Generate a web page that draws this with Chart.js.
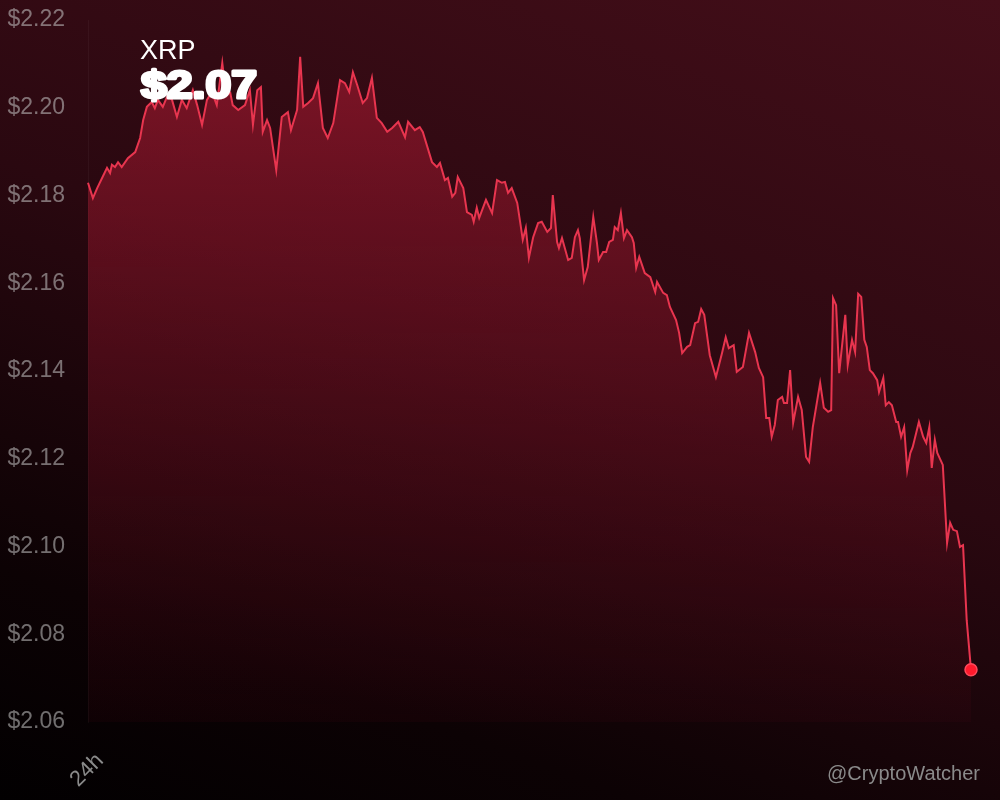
<!DOCTYPE html>
<html>
<head>
<meta charset="utf-8">
<script src="https://cdn.jsdelivr.net/npm/chart.js@4/dist/chart.umd.min.js"></script>
<style>
  html, body { margin: 0; padding: 0; }
  body {
    width: 1000px; height: 800px; overflow: hidden;
    background: linear-gradient(200deg, #440e19 0%, #2a0810 45%, #0c0204 80%, #020001 100%);
  }
  #wrap { position: relative; width: 1000px; height: 800px; }
</style>
</head>
<body>
<div id="wrap"><canvas id="myChart" width="1000" height="800"></canvas></div>
<script>
// minutes since start of the 24h window
const minutes = [
  0, 8, 15, 23, 31, 36, 39, 44, 49, 55, 65, 77, 85, 90, 96, 104, 109, 114, 122, 130,
  137, 145, 153, 161, 171, 178, 186, 194, 202, 210, 219, 225, 232, 236, 245, 256, 264, 269, 276, 282,
  285, 292, 297, 307, 316, 326, 331, 341, 346, 351, 359, 367, 375, 383, 391, 400, 411, 419, 426, 432,
  439, 448, 455, 463, 471, 479, 488, 496, 506, 517, 522, 533, 541, 546, 561, 569, 574, 582, 587, 594,
  599, 603, 612, 618, 626, 629, 634, 638, 649, 659, 667, 675, 680, 685, 691, 700, 705, 709, 714, 719,
  726, 734, 740, 749, 755, 758, 765, 768, 773, 783, 789, 794, 799, 802, 809, 815, 824, 830, 833, 840,
  845, 850, 856, 859, 864, 869, 874, 879, 887, 890, 894, 899, 908, 917, 925, 928, 938, 944, 949, 959,
  964, 969, 977, 982, 990, 995, 1000, 1005, 1014, 1024, 1034, 1040, 1045, 1053, 1058, 1068, 1078, 1088, 1094, 1101,
  1106, 1111, 1115, 1120, 1125, 1132, 1135, 1140, 1145, 1150, 1158, 1164, 1171, 1176, 1182, 1194, 1200, 1207, 1212, 1215,
  1220, 1225, 1235, 1239, 1246, 1251, 1256, 1261, 1266, 1270, 1275, 1280, 1287, 1290, 1297, 1301, 1306, 1311, 1318, 1321,
  1326, 1331, 1336, 1341, 1345, 1355, 1362, 1367, 1372, 1376, 1381, 1385, 1394, 1401, 1406, 1411, 1417, 1422, 1427, 1433,
  1440
];

const prices = [
  2.1829, 2.1794, 2.1817, 2.1840, 2.1863, 2.1851, 2.1870, 2.1865, 2.1876, 2.1865, 2.1885, 2.1899, 2.1931, 2.1972, 2.2002, 2.2013, 2.1999, 2.2018, 2.2002, 2.2029,
  2.2018, 2.1979, 2.2018, 2.1999, 2.2040, 2.2006, 2.1961, 2.2018, 2.2036, 2.2006, 2.2102, 2.2029, 2.2034, 2.2006, 2.1995, 2.2006, 2.2040, 2.1961, 2.2040, 2.2047,
  2.1945, 2.1972, 2.1954, 2.1858, 2.1979, 2.1990, 2.1949, 2.1995, 2.2116, 2.2002, 2.2011, 2.2022, 2.2056, 2.1954, 2.1931, 2.1965, 2.2063, 2.2056, 2.2036, 2.2081,
  2.2052, 2.2011, 2.2022, 2.2068, 2.1977, 2.1965, 2.1945, 2.1954, 2.1968, 2.1933, 2.1968, 2.1949, 2.1956, 2.1945, 2.1876, 2.1865, 2.1874, 2.1835, 2.1840, 2.1797,
  2.1806, 2.1842, 2.1817, 2.1762, 2.1756, 2.1740, 2.1772, 2.1749, 2.1790, 2.1760, 2.1835, 2.1829, 2.1831, 2.1806, 2.1817, 2.1783, 2.1737, 2.1699, 2.1726, 2.1658,
  2.1705, 2.1737, 2.1740, 2.1717, 2.1726, 2.1801, 2.1694, 2.1680, 2.1703, 2.1653, 2.1658, 2.1705, 2.1721, 2.1703, 2.1607, 2.1637, 2.1751, 2.1692, 2.1653, 2.1671,
  2.1671, 2.1694, 2.1699, 2.1728, 2.1721, 2.1760, 2.1703, 2.1721, 2.1705, 2.1692, 2.1635, 2.1660, 2.1623, 2.1614, 2.1580, 2.1603, 2.1578, 2.1573, 2.1546, 2.1516,
  2.1487, 2.1441, 2.1455, 2.1459, 2.1509, 2.1512, 2.1541, 2.1528, 2.1436, 2.1386, 2.1441, 2.1477, 2.1452, 2.1459, 2.1398, 2.1409, 2.1487, 2.1443, 2.1407, 2.1386,
  2.1293, 2.1293, 2.1250, 2.1277, 2.1334, 2.1341, 2.1327, 2.1327, 2.1402, 2.1282, 2.1341, 2.1311, 2.1204, 2.1193, 2.1272, 2.1373, 2.1316, 2.1307, 2.1311, 2.1566,
  2.1550, 2.1395, 2.1528, 2.1414, 2.1471, 2.1443, 2.1576, 2.1569, 2.1471, 2.1455, 2.1402, 2.1395, 2.1379, 2.1352, 2.1384, 2.1322, 2.1329, 2.1322, 2.1284, 2.1284,
  2.1250, 2.1272, 2.1174, 2.1213, 2.1227, 2.1284, 2.1250, 2.1236, 2.1272, 2.1179, 2.1243, 2.1213, 2.1186, 2.1008, 2.1054, 2.1038, 2.1035, 2.0999, 2.1003, 2.0832,
  2.0719
];

const yTicks = [2.06, 2.08, 2.10, 2.12, 2.14, 2.16, 2.18, 2.20, 2.22];
const xTickLabel = "24h";
const coinName = "XRP";
const handle = "@CryptoWatcher";

const points = minutes.map((m, i) => ({ x: m, y: prices[i] }));
const lastIdx = points.length - 1;

let overlayText = {
  id: "overlayText",
  afterDraw(chart) {
    const { ctx } = chart;
    const current = prices[lastIdx];
    ctx.save();
    ctx.fillStyle = "#ffffff";
    ctx.textBaseline = "alphabetic";
    ctx.textAlign = "left";
    ctx.font = "27px 'Liberation Sans', Arial, sans-serif";
    ctx.fillText(coinName, 140, 59);

    // big price, a bit wider and heavier than plain bold
    const label = "$" + current.toFixed(2);
    ctx.translate(141, 98);
    ctx.scale(1.22, 1);
    ctx.font = "bold 38px 'Liberation Sans', Arial, sans-serif";
    ctx.lineWidth = 3;
    ctx.strokeStyle = "#ffffff";
    ctx.lineJoin = "round";
    ctx.strokeText(label, 0, 0);
    ctx.fillText(label, 0, 0);
    ctx.restore();

    ctx.save();
    ctx.font = "20px 'Liberation Sans', Arial, sans-serif";
    ctx.fillStyle = "#8a8a8a";
    ctx.textAlign = "right";
    ctx.fillText(handle, 980, 780);
    ctx.restore();
  }
};

let chart = new Chart(document.getElementById("myChart"), {
  type: "line",
  data: {
    datasets: [{
      data: points,
      borderColor: "#e8354f",
      borderWidth: 2,
      tension: 0,
      fill: "start",
      clip: false,
      backgroundColor(context) {
        const area = context.chart.chartArea;
        if (!area) return "rgba(200,30,60,0.4)";
        const g = context.chart.ctx.createLinearGradient(0, area.top, 0, area.bottom);
        g.addColorStop(0, "rgba(178,28,52,0.62)");
        g.addColorStop(1, "rgba(120,15,35,0.08)");
        return g;
      },
      pointRadius: (c) => (c.dataIndex === lastIdx ? 6 : 0),
      pointBackgroundColor: "#ff1a2c",
      pointBorderColor: "#ff4a5c",
      pointBorderWidth: 1.5,
      pointHoverRadius: 0
    }]
  },
  options: {
    responsive: false,
    animation: false,
    layout: { padding: { top: 20, right: 29, left: 0, bottom: 0 } },
    plugins: {
      legend: { display: false },
      tooltip: { enabled: false }
    },
    scales: {
      x: {
        type: "linear",
        min: minutes[0],
        max: minutes[lastIdx],
        grid: { display: false, drawTicks: false },
        border: { display: false },
        afterBuildTicks(scale) { scale.ticks = [{ value: minutes[0] }]; },
        afterFit(scale) {
          scale.height = 78;
          scale.paddingLeft = 0;
          scale.paddingRight = 0;
        },
        ticks: {
          callback: () => xTickLabel,
          color: "#8a8a8a",
          font: { size: 22, family: "'Liberation Sans', Arial, sans-serif" },
          minRotation: 45,
          maxRotation: 45,
          labelOffset: 12,
          padding: 26
        }
      },
      y: {
        min: yTicks[0],
        max: yTicks[yTicks.length - 1],
        grid: { display: false, drawTicks: false },
        border: { display: true, color: "rgba(255,255,255,0.04)" },
        afterBuildTicks(scale) { scale.ticks = yTicks.map(v => ({ value: v })); },
        afterFit(scale) {
          scale.width = 88;
          scale.paddingTop = 0;
          scale.paddingBottom = 0;
        },
        ticks: {
          callback: (v) => "$" + v.toFixed(2),
          color: "rgba(200,200,200,0.55)",
          font: { size: 23, family: "'Liberation Sans', Arial, sans-serif" },
          padding: 23
        }
      }
    }
  },
  plugins: [overlayText]
});
</script>
</body>
</html>
